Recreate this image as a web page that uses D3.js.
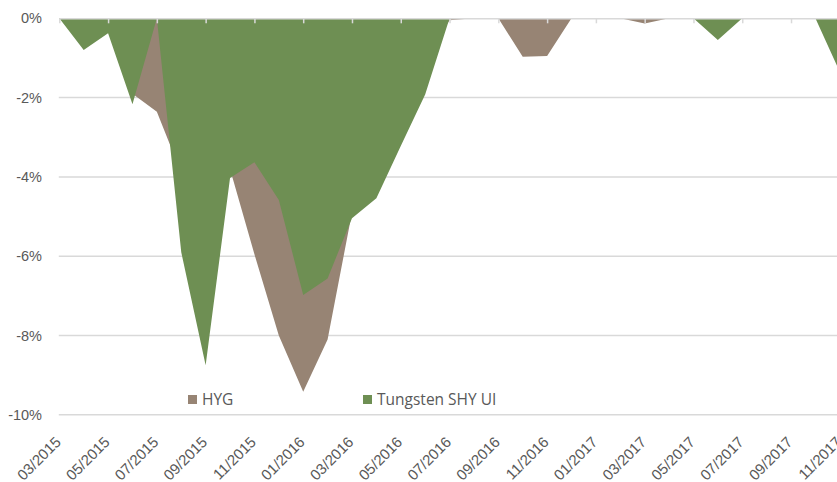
<!DOCTYPE html>
<html>
<head>
<meta charset="utf-8">
<script src="https://cdn.jsdelivr.net/npm/d3@7"></script>
<style>
    body { margin: 0; background: #fff; }
    svg { display: block; font-family: "Open Sans", sans-serif; }
</style>
</head>
<body>
<svg id="drawdown-chart"></svg>
<script>
const months = [
    '03/2015', '04/2015', '05/2015', '06/2015', '07/2015', '08/2015', '09/2015', '10/2015',
    '11/2015', '12/2015', '01/2016', '02/2016', '03/2016', '04/2016', '05/2016', '06/2016',
    '07/2016', '08/2016', '09/2016', '10/2016', '11/2016', '12/2016', '01/2017', '02/2017',
    '03/2017', '04/2017', '05/2017', '06/2017', '07/2017', '08/2017', '09/2017', '10/2017',
    '11/2017'
];

// drawdown in percent, one value per month
const hygValues = [
    0, -0.5, -0.2, -1.9, -2.36, -3.9, -4.2, -3.8,
    -5.95, -8.0, -9.42, -8.1, -4.9, -3.6, -2.3, -1.0,
    -0.05, 0, 0, -0.97, -0.95, 0, 0, 0,
    -0.13, 0, 0, 0, 0, 0, 0, 0,
    -0.4
];

const tungstenValues = [
    0, -0.8, -0.38, -2.17, 0, -5.9, -8.75, -4.03,
    -3.63, -4.58, -6.98, -6.56, -5.04, -4.54, -3.22, -1.92,
    0, 0, 0, 0, 0, 0, 0, 0,
    0, 0, 0, -0.55, 0, 0, 0, 0,
    -1.35
];

const yTicks = [0, -2, -4, -6, -8, -10];

const seriesNames = ['HYG', 'Tungsten SHY UI'];
const seriesColors = ['#978474', '#6e8f53'];

class DrawdownChart {
    constructor() {
        this.width = 837;
        this.height = 482;
        this.left = 59.3;
        this.right = 839.8;
        this.top = 18.3;
        this.bottom = 414.8;
        this.labelY = 443;

        this.setupSVG();
        this.setupScales();
        this.drawGrid();
        this.drawAreas();
        this.drawAxes();
        this.drawLegend();
    }

    setupSVG() {
        this.svg = d3.select('#drawdown-chart')
            .attr('width', this.width)
            .attr('height', this.height);
    }

    setupScales() {
        this.xScale = d3.scalePoint()
            .domain(months)
            .range([this.left, this.right]);

        this.yScale = d3.scaleLinear()
            .domain([-10, 0])
            .range([this.bottom, this.top]);
    }

    drawGrid() {
        this.svg.append('g')
            .attr('class', 'grid')
            .selectAll('line')
            .data(yTicks.filter(d => d !== 0))
            .enter().append('line')
            .attr('x1', this.left - 0.5)
            .attr('x2', this.width)
            .attr('y1', d => this.yScale(d))
            .attr('y2', d => this.yScale(d))
            .style('stroke', '#d9d9d9')
            .style('stroke-width', 1.5);
    }

    drawAreas() {
        const area = d3.area()
            .x((d, i) => this.xScale(months[i]))
            .y0(this.yScale(0))
            .y1(d => this.yScale(d));

        [hygValues, tungstenValues].forEach((values, k) => {
            this.svg.append('path')
                .datum(values)
                .attr('d', area)
                .style('fill', seriesColors[k]);
        });
    }

    drawAxes() {
        const y0 = this.yScale(0);

        const xAxis = d3.axisBottom(this.xScale)
            .tickValues(months.filter((m, i) => i % 2 === 0))
            .tickSizeInner(5)
            .tickSizeOuter(0);

        const gx = this.svg.append('g')
            .attr('class', 'x-axis')
            .attr('transform', `translate(0,${y0})`)
            .call(xAxis);

        gx.select('.domain')
            .style('stroke', '#d9d9d9')
            .style('stroke-width', 1.5);
        gx.selectAll('.tick line')
            .style('stroke', '#d9d9d9')
            .style('stroke-width', 1.5);
        gx.selectAll('.tick text')
            .attr('y', 0)
            .attr('dy', 0)
            .attr('transform', `translate(2,${this.labelY - y0}) rotate(-45)`)
            .style('text-anchor', 'end')
            .style('font-size', '15px')
            .style('fill', '#595959');

        const yAxis = d3.axisLeft(this.yScale)
            .tickValues(yTicks)
            .tickSize(0)
            .tickPadding(0)
            .tickFormat(d => `${d}%`);

        const gy = this.svg.append('g')
            .attr('class', 'y-axis')
            .attr('transform', 'translate(42,0)')
            .call(yAxis);

        gy.select('.domain').remove();
        gy.selectAll('.tick text')
            .style('font-size', '14.5px')
            .style('fill', '#595959');
    }

    drawLegend() {
        const items = [
            { x: 188, name: seriesNames[0], color: seriesColors[0] },
            { x: 363, name: seriesNames[1], color: seriesColors[1] }
        ];

        const legend = this.svg.append('g')
            .attr('class', 'legend')
            .selectAll('g')
            .data(items)
            .enter().append('g')
            .attr('transform', d => `translate(${d.x},395)`);

        legend.append('rect')
            .attr('width', 9)
            .attr('height', 9)
            .style('fill', d => d.color);

        legend.append('text')
            .attr('x', 14)
            .attr('y', 10)
            .style('font-size', '15.5px')
            .style('fill', '#595959')
            .text(d => d.name);
    }
}

document.addEventListener('DOMContentLoaded', () => {
    new DrawdownChart();
});
</script>
</body>
</html>
